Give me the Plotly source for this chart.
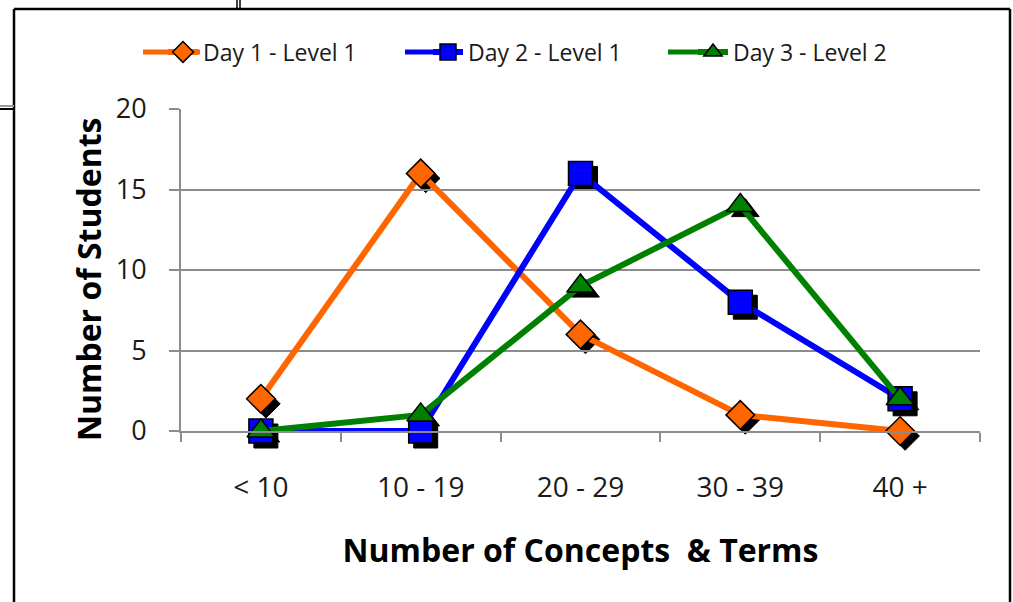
import plotly.graph_objects as go

# Score bands and student counts per session
categories = ["< 10", "10 - 19", "20 - 29", "30 - 39", "40 +"]
day1_level1 = [2, 16, 6, 1, 0]
day2_level1 = [0, 0, 16, 8, 2]
day3_level2 = [0, 1, 9, 14, 2]
y_ticks = [0, 5, 10, 15, 20]

series = [
    ("Day 1 - Level 1", day1_level1, "#FF6600", "diamond", 22),
    ("Day 2 - Level 1", day2_level1, "#0000FF", "square", 24),
    ("Day 3 - Level 2", day3_level2, "#008000", "triangle-up", 24),
]

W, H = 1013, 602
ML, MR, MT, MB = 181, 28, 109, 166
PW, PH = W - ML - MR, H - MT - MB
SH = 5  # drop-shadow offset in px


def px(xp):
    return (xp - ML) / PW


def py(yp):
    return (H - MB - yp) / PH


fig = go.Figure()

# black drop shadows behind the markers (lower-level subplot)
for name, vals, color, sym, size in series:
    fig.add_trace(go.Scatter(
        x=categories, y=vals, mode="markers", xaxis="x", yaxis="y",
        marker=dict(symbol=sym, size=size, color="black",
                    line=dict(color="black", width=1)),
        showlegend=False, hoverinfo="skip", cliponaxis=False,
    ))

# main series
for name, vals, color, sym, size in series:
    fig.add_trace(go.Scatter(
        x=categories, y=vals, name=name, mode="lines+markers",
        xaxis="x2", yaxis="y2",
        line=dict(color=color, width=6),
        marker=dict(symbol=sym, size=size, color=color,
                    line=dict(color="black", width=1.5)),
        cliponaxis=False,
    ))

font_main = "'Open Sans', Calibri, sans-serif"

fig.update_layout(
    width=W, height=H,
    margin=dict(l=ML, r=MR, t=MT, b=MB),
    paper_bgcolor="white", plot_bgcolor="rgba(0,0,0,0)",
    font=dict(family=font_main, color="#1a1a1a"),
    showlegend=True,
    legend=dict(
        orientation="h", x=px(163), xanchor="left", y=py(52), yanchor="middle",
        entrywidth=220, entrywidthmode="pixels",
        font=dict(size=23, color="#1a1a1a"),
        bgcolor="rgba(0,0,0,0)",
    ),
    xaxis=dict(domain=[SH / PW, 1], range=[-0.5, 4.5], visible=False,
               anchor="y", type="category", categoryarray=categories),
    yaxis=dict(domain=[0, 1 - SH / PH], range=[0, 20], visible=False, anchor="x"),
    xaxis2=dict(
        domain=[0, 1 - SH / PW], range=[-0.5, 4.5], anchor="y2",
        type="category", categoryarray=categories,
        showline=True, linecolor="#8c8c8c", linewidth=2,
        showgrid=False, zeroline=False,
        ticks="outside", tickson="boundaries", ticklen=9,
        tickcolor="#8c8c8c", tickwidth=1.5,
        tickfont=dict(size=28, color="#1a1a1a"),
        ticklabelstandoff=30,
        title=dict(text="<b>Number of Concepts  & Terms</b>",
                   font=dict(size=32, color="black"), standoff=36),
    ),
    yaxis2=dict(
        domain=[SH / PH, 1], range=[0, 20], anchor="x2",
        tickvals=y_ticks,
        showline=True, linecolor="#8c8c8c", linewidth=2,
        showgrid=True, gridcolor="#8c8c8c", gridwidth=1.5,
        zeroline=False,
        ticks="outside", ticklen=10, tickcolor="#8c8c8c", tickwidth=1.5,
        tickfont=dict(size=27, color="#1a1a1a"),
        ticklabelstandoff=17,
    ),
)

# vertical axis title
fig.add_annotation(
    text="<b>Number of Students</b>", textangle=-90, showarrow=False,
    xref="paper", yref="paper", x=px(88), y=py(279),
    xanchor="center", yanchor="middle",
    font=dict(size=32, color="black", family=font_main),
)

# longer legend swatch lines
for (name, vals, color, sym, size), x0 in zip(series, [143, 405, 668]):
    fig.add_shape(type="line", xref="paper", yref="paper",
                  x0=px(x0), x1=px(x0 + 57), y0=py(52), y1=py(52),
                  line=dict(color=color, width=5))

# surrounding frame and slide-edge lines
frame = dict(color="black", width=2.5)
fig.add_shape(type="line", xref="paper", yref="paper",
              x0=px(14), x1=px(1010), y0=py(9), y1=py(9), line=frame)
fig.add_shape(type="line", xref="paper", yref="paper",
              x0=px(14), x1=px(14), y0=py(9), y1=py(610), line=frame)
fig.add_shape(type="line", xref="paper", yref="paper",
              x0=px(1010), x1=px(1010), y0=py(9), y1=py(610), line=frame)
fig.add_shape(type="line", xref="paper", yref="paper",
              x0=px(237), x1=px(237), y0=py(0), y1=py(9),
              line=dict(color="black", width=1.5))
fig.add_shape(type="line", xref="paper", yref="paper",
              x0=px(240), x1=px(240), y0=py(0), y1=py(9),
              line=dict(color="black", width=1.5))
fig.add_shape(type="line", xref="paper", yref="paper",
              x0=px(0), x1=px(14), y0=py(106), y1=py(106),
              line=dict(color="#9a9a9a", width=2))
fig.add_shape(type="line", xref="paper", yref="paper",
              x0=px(0), x1=px(14), y0=py(109), y1=py(109),
              line=dict(color="black", width=2))

fig.write_html("out.html")
